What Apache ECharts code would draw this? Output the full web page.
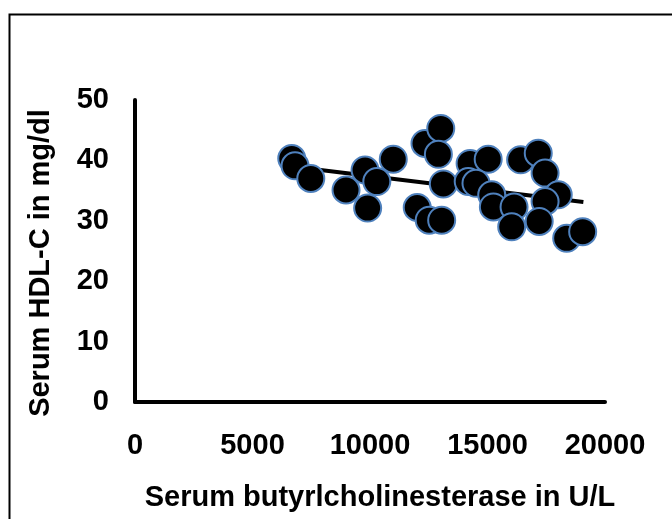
<!DOCTYPE html>
<html>
<head>
<meta charset="utf-8">
<script src="https://cdn.jsdelivr.net/npm/echarts@6/dist/echarts.min.js"></script>
<style>
html,body{margin:0;padding:0;background:#fff;}
#chart{width:672px;height:519px;}
</style>
</head>
<body>
<div id="chart"></div>
<script>
// Serum butyrylcholinesterase (U/L)
var bcheValues = [6670, 6810, 7480, 8980, 9790, 10290, 9900, 10990, 12340, 13010, 12910, 13120, 12010, 12520, 13050, 14260, 15030, 14180, 14510, 15180, 15250, 16130, 16030, 16410, 17160, 17450, 18010, 17450, 17200, 18370, 19050];
// Serum HDL-C (mg/dl)
var hdlValues = [40.3, 39.1, 37.0, 35.1, 38.4, 36.5, 32.1, 40.2, 42.8, 45.3, 41.0, 36.1, 32.2, 30.1, 30.1, 39.5, 40.2, 36.5, 36.2, 34.3, 32.3, 32.3, 29.0, 40.1, 41.2, 37.9, 34.3, 33.2, 29.9, 27.1, 28.2];
// Trend line endpoints
var trendX = [6670, 19080];
var trendY = [39.0, 33.1];
var xTicks = [0, 5000, 10000, 15000, 20000];
var yTicks = [0, 10, 20, 30, 40, 50];
var xTitle = 'Serum butyrlcholinesterase in U/L';
var yTitle = 'Serum HDL-C in mg/dl';

var FONT = "'Liberation Sans', Arial, sans-serif";
var scatterData = bcheValues.map(function (v, i) { return [v, hdlValues[i]]; });
var trendData = trendX.map(function (v, i) { return [v, trendY[i]]; });

var chart = echarts.init(document.getElementById('chart'), null, {renderer: 'canvas'});
chart.setOption({
  animation: false,
  backgroundColor: '#ffffff',
  grid: {left: 135, top: 100, right: 67, bottom: 117, containLabel: false},
  xAxis: {
    type: 'value',
    min: xTicks[0], max: xTicks[xTicks.length - 1], interval: xTicks[1] - xTicks[0],
    axisLine: {show: true, onZero: false, lineStyle: {color: '#000', width: 4}},
    axisTick: {show: false},
    splitLine: {show: false},
    axisLabel: {color: '#000', fontSize: 29, fontWeight: 'bold', fontFamily: FONT, margin: 29,
      formatter: function (v) { return String(v); }}
  },
  yAxis: {
    type: 'value',
    min: yTicks[0], max: yTicks[yTicks.length - 1], interval: yTicks[1] - yTicks[0],
    axisLine: {show: true, onZero: false, lineStyle: {color: '#000', width: 4}},
    axisTick: {show: false},
    splitLine: {show: false},
    axisLabel: {color: '#000', fontSize: 29, fontWeight: 'bold', fontFamily: FONT, margin: 26,
      formatter: function (v) { return String(v); }}
  },
  graphic: [
    {type: 'rect', left: 7, top: 12, shape: {width: 720, height: 560},
     style: {fill: 'none', stroke: '#000', lineWidth: 2}, z: -1, silent: true},
    {type: 'text', x: 380, y: 498,
     style: {text: xTitle, font: 'bold 29px ' + FONT, fill: '#000', textAlign: 'center', textVerticalAlign: 'middle'}},
    {type: 'text', x: 41, y: 263, rotation: Math.PI / 2,
     style: {text: yTitle, font: 'bold 29px ' + FONT, fill: '#000', textAlign: 'center', textVerticalAlign: 'middle'}}
  ],
  series: [
    {
      type: 'line', data: trendData, symbol: 'none', z: 1,
      lineStyle: {color: '#000', width: 4}
    },
    {
      type: 'scatter', data: scatterData, symbol: 'circle', symbolSize: 27, z: 2,
      itemStyle: {color: '#000', borderColor: '#4f81bd', borderWidth: 2, opacity: 1}
    }
  ]
});
</script>
</body>
</html>
